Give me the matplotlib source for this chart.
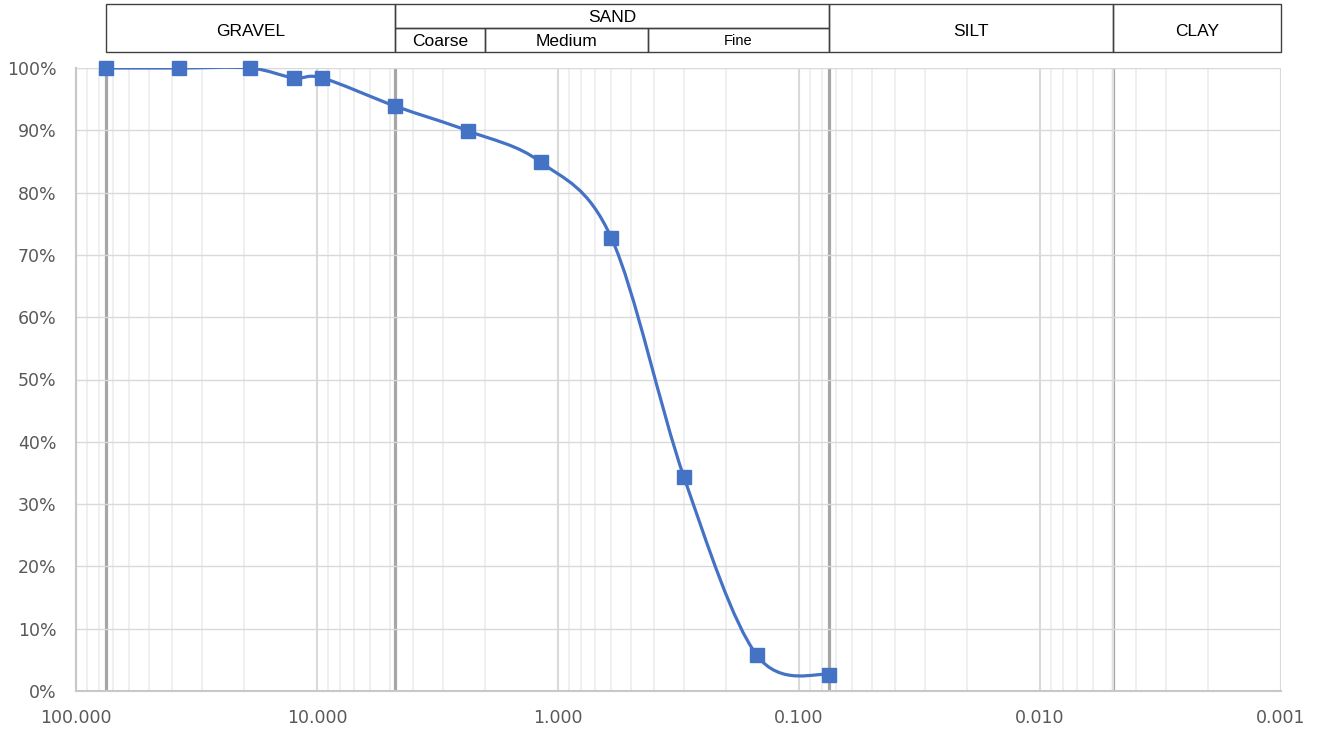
import numpy as np
import matplotlib
matplotlib.use('Agg')
import matplotlib.pyplot as plt
import matplotlib.transforms as mtransforms
from matplotlib.path import Path
from matplotlib.patches import PathPatch, Rectangle
from matplotlib.ticker import PercentFormatter, FixedLocator

plt.rcParams['font.family'] = 'DejaVu Sans'

# --- data --- #
sieve_mm = [75, 37.5, 19, 12.5, 9.5, 4.75, 2.36, 1.18, 0.6, 0.3, 0.15, 0.075]
passing = [1.000, 1.000, 1.000, 0.984, 0.984, 0.939, 0.899, 0.849, 0.727, 0.343, 0.058, 0.026]

# soil class boundaries (mm)
boundaries = [75, 4.75, 0.075, 0.005]
classes = [('GRAVEL', 75, 4.75), ('SILT', 0.075, 0.005), ('CLAY', 0.005, 0.001)]
sand = ('SAND', 4.75, 0.075)
sand_sub = [('Coarse', 4.75, 2.0), ('Medium', 2.0, 0.425), ('Fine', 0.425, 0.075)]

blue = '#4472C4'
tick_col = '#595959'

fig = plt.figure(figsize=(13.18, 7.34), dpi=100)
ax = fig.add_axes([76 / 1318, 43 / 734, 1205 / 1318, 623 / 734])

ax.set_xscale('log')
ax.set_xlim(100, 0.001)
ax.set_ylim(0, 1)

# grid
ax.yaxis.set_major_locator(FixedLocator(np.arange(0, 1.01, 0.1)))
ax.yaxis.set_major_formatter(PercentFormatter(1.0, decimals=0))
ax.xaxis.set_major_locator(FixedLocator([100, 10, 1, 0.1, 0.01, 0.001]))
ax.xaxis.set_major_formatter(matplotlib.ticker.FuncFormatter(lambda v, p: '%.3f' % v))
minors = [m * 10.0 ** e for e in range(-3, 2) for m in range(2, 10)]
ax.xaxis.set_minor_locator(FixedLocator(minors))
ax.xaxis.set_minor_formatter(matplotlib.ticker.NullFormatter())
ax.grid(True, which='major', axis='y', color='#d9d9d9', lw=1.0)
ax.grid(True, which='major', axis='x', color='#d9d9d9', lw=1.5)
ax.grid(True, which='minor', axis='x', color='#ececec', lw=1.2)
ax.tick_params(which='both', length=0)
ax.tick_params(axis='y', pad=14, labelsize=12.5, labelcolor=tick_col)
ax.tick_params(axis='x', pad=13, labelsize=12.5, labelcolor=tick_col)
for s in ['top', 'right']:
    ax.spines[s].set_visible(False)
for s in ['bottom', 'left']:
    ax.spines[s].set_color('#c8c8c8')
    ax.spines[s].set_linewidth(1.5)

# class boundary lines
for b in boundaries:
    ax.axvline(b, color='#a6a6a6', lw=2.3, zorder=1.5)

# smoothed curve (cardinal spline, drawn as cubic bezier in log-x space)
u = np.log10(sieve_mm)
v = np.array(passing)
n = len(u)
verts = [(u[0], v[0])]
codes = [Path.MOVETO]
for i in range(n - 1):
    i0 = max(i - 1, 0)
    i3 = min(i + 2, n - 1)
    c1 = (u[i] + (u[i + 1] - u[i0]) / 6, v[i] + (v[i + 1] - v[i0]) / 6)
    c2 = (u[i + 1] - (u[i3] - u[i]) / 6, v[i + 1] - (v[i3] - v[i]) / 6)
    verts += [c1, c2, (u[i + 1], v[i + 1])]
    codes += [Path.CURVE4] * 3
verts = [(10 ** a, b) for a, b in verts]
ax.add_patch(PathPatch(Path(verts, codes), fill=False, edgecolor=blue, lw=2.3,
                       zorder=3, capstyle='round', joinstyle='round'))
ax.plot(sieve_mm, passing, ls='none', marker='s', ms=10, color=blue, zorder=4,
        clip_on=False)

# header boxes
trans = mtransforms.blended_transform_factory(ax.transData, fig.transFigure)
y_top = 1 - 4 / 734
y_bot = 1 - 52 / 734
y_mid = 1 - 28 / 734


def box(x0, x1, y0, y1):
    r = Rectangle((x0, y0), x1 - x0, y1 - y0, transform=trans, fill=False,
                  edgecolor='#404040', lw=1.0, clip_on=False)
    fig.add_artist(r)


hdr_font = ['Liberation Sans', 'DejaVu Sans']
for name, x0, x1 in classes:
    box(x0, x1, y_bot, y_top)
    ax.text(np.sqrt(x0 * x1), 1 - 31 / 734, name, transform=trans, ha='center',
            va='center', fontsize=12.5, family=hdr_font)
box(sand[1], sand[2], y_mid, y_top)
ax.text(np.sqrt(sand[1] * sand[2]), 1 - 18 / 734, sand[0], transform=trans,
        ha='center', va='center', fontsize=12.5, family=hdr_font)
for name, x0, x1 in sand_sub:
    box(x0, x1, y_bot, y_mid)
    ax.text(np.sqrt(x0 * x1), 1 - 41 / 734, name, transform=trans, ha='center',
            va='center', fontsize=10.5 if name == 'Fine' else 12.5,
            family=hdr_font)

plt.savefig('out.png', dpi=100)
